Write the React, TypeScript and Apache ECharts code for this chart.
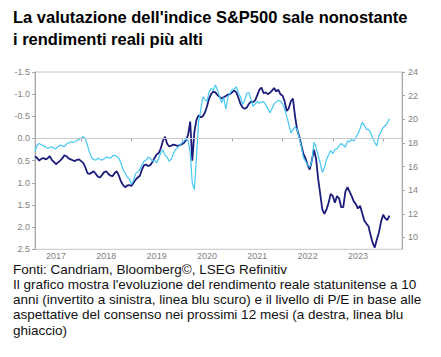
import React, { useEffect, useRef } from "react";
import * as echarts from "echarts";

// Semi-monthly observations starting 2017-02-01 (1st and 16th of each month)
const FIRST_YEAR = 2017;
const FIRST_MONTH = 1; // February (0-based)
const CATEGORY_COUNT = 176;

const yearLabels = ["2017", "2018", "2019", "2020", "2021", "2022", "2023"];

// US 10y real yield (%), plotted on the inverted left axis (dark blue)
const realYield = [
  0.40, 0.44, 0.50, 0.46, 0.44, 0.47, 0.45, 0.40, 0.48, 0.53,
  0.58, 0.54, 0.50, 0.45, 0.38, 0.40, 0.45, 0.47, 0.49, 0.51,
  0.48, 0.47, 0.51, 0.55, 0.65, 0.78, 0.80, 0.77, 0.74, 0.80,
  0.86, 0.88, 0.82, 0.76, 0.74, 0.80, 0.84, 0.85, 0.78, 0.74,
  0.84, 0.97, 1.05, 1.10, 1.06, 1.05, 1.07, 1.00, 0.93, 0.88,
  0.84, 0.70, 0.60, 0.59, 0.62, 0.60, 0.53, 0.44, 0.36, 0.33,
  0.22, 0.05, -0.04, 0.12, 0.18, 0.16, 0.14, 0.15, 0.17, 0.15,
  0.13, 0.10, 0.04, -0.08, -0.38, 0.50, -0.15, -0.42, -0.52, -0.48,
  -0.50, -0.58, -0.72, -0.90, -1.00, -1.06, -1.04, -0.98, -0.94, -0.90,
  -0.93, -0.96, -0.99, -1.00, -1.04, -1.08, -1.04, -0.92, -0.78, -0.70,
  -0.67, -0.70, -0.78, -0.83, -0.82, -0.86, -0.98, -1.10, -1.15, -1.02,
  -1.04, -1.00, -1.03, -1.08, -1.14, -1.06, -1.10, -1.00, -0.97, -0.85,
  -0.62, -0.68, -0.84, -0.90, -0.50, -0.20, -0.05, 0.15, 0.35, 0.45,
  0.60, 0.70, 0.50, 0.25, 0.45, 0.90, 1.25, 1.60, 1.70, 1.60,
  1.45, 1.25, 1.30, 1.45, 1.30, 1.35, 1.55, 1.55, 1.20, 1.10,
  1.20, 1.30, 1.42, 1.48, 1.58, 1.52, 1.68, 1.85, 1.92, 1.98,
  2.18, 2.35, 2.46, 2.28, 2.12, 1.88, 1.72, 1.80, 1.84, 1.74,
];

// S&P500 forward 12m P/E, plotted on the right axis (light blue)
const forwardPE = [
  17.25, 17.80, 17.96, 17.85, 17.75, 17.68, 17.54, 17.60, 17.68, 17.55,
  17.50, 17.68, 17.82, 17.75, 17.68, 17.90, 18.00, 18.10, 18.05, 18.10,
  18.20, 18.30, 18.40, 18.52, 18.35, 17.80, 17.20, 16.75, 16.60, 16.55,
  16.70, 16.60, 16.55, 16.65, 16.80, 16.75, 16.70, 16.90, 16.95, 16.85,
  16.70, 16.30, 15.75, 15.45, 15.10, 14.95, 14.50, 14.85, 15.40, 15.55,
  15.75, 16.15, 16.45, 16.55, 16.80, 16.70, 16.45, 16.55, 16.30, 16.70,
  17.15, 17.40, 16.95, 16.80, 16.45, 16.65, 17.10, 17.45, 17.60, 17.80,
  18.00, 18.15, 18.35, 18.20, 17.20, 14.60, 14.05, 16.80, 19.80, 20.70,
  21.90, 21.70, 21.50, 22.30, 22.60, 22.45, 22.90, 22.50, 21.90, 21.40,
  21.85, 20.85, 21.90, 22.20, 22.50, 22.55, 22.75, 22.20, 21.90, 21.25,
  21.60, 22.20, 22.25, 21.70, 21.10, 21.30, 21.50, 21.35, 21.45, 21.50,
  21.25, 20.90, 20.55, 20.90, 21.30, 21.45, 21.60, 21.55, 21.35, 20.90,
  20.25, 19.60, 18.85, 19.10, 19.35, 19.15, 18.40, 17.70, 16.75, 16.45,
  16.15, 15.95, 16.40, 18.05, 17.65, 16.95, 16.30, 15.50, 15.90, 16.60,
  17.00, 17.35, 17.10, 17.45, 17.50, 17.75, 17.95, 17.80, 17.65, 18.15,
  18.10, 18.30, 18.15, 18.45, 18.80, 19.20, 19.75, 19.50, 19.15, 19.15,
  18.90, 18.40, 18.05, 17.75, 18.60, 18.95, 19.30, 19.45, 19.70, 20.05,
];

const titleLines = [
  "La valutazione dell'indice S&P500 sale nonostante",
  "i rendimenti reali più alti",
];

const noteLines = [
  "Fonti: Candriam, Bloomberg©, LSEG Refinitiv",
  "Il grafico mostra l'evoluzione del rendimento reale statunitense a 10",
  "anni (invertito a sinistra, linea blu scuro) e il livello di P/E in base alle",
  "aspettative del consenso nei prossimi 12 mesi (a destra, linea blu",
  "ghiaccio)",
];

function buildCategories(): string[] {
  const out: string[] = [];
  for (let i = 0; i < CATEGORY_COUNT; i++) {
    const m = FIRST_MONTH + Math.floor(i / 2);
    const y = FIRST_YEAR + Math.floor(m / 12);
    const mm = (m % 12) + 1;
    const dd = i % 2 === 0 ? 1 : 16;
    out.push(`${y}-${String(mm).padStart(2, "0")}-${String(dd).padStart(2, "0")}`);
  }
  return out;
}

const FONT = "'Liberation Sans', Arial, Helvetica, sans-serif";
const AXIS_GREY = "#a6a6a6";
const LABEL_GREY = "#7f7f7f";

export default function App() {
  const ref = useRef<HTMLDivElement>(null);

  useEffect(() => {
    if (!ref.current) return;
    const chart = echarts.init(ref.current, undefined, { renderer: "svg" });
    const categories = buildCategories();

    chart.setOption({
      animation: false,
      backgroundColor: "#ffffff",
      textStyle: { fontFamily: FONT },
      title: {
        text: titleLines.join("\n"),
        left: 13,
        top: 6,
        padding: 0,
        textStyle: {
          fontFamily: FONT,
          fontSize: 16.5,
          fontWeight: "bold",
          color: "#000000",
          lineHeight: 22,
        },
      },
      graphic: [
        {
          type: "text",
          left: 13,
          top: 261.5,
          style: {
            text: noteLines.join("\n"),
            font: `13.5px ${FONT}`,
            fill: "#111111",
            lineHeight: 15.25,
          },
        },
      ],
      grid: {
        left: 35,
        top: 72,
        width: 367,
        height: 177.3,
        show: true,
        borderColor: "#c4c4c4",
        borderWidth: 1,
        containLabel: false,
      },
      xAxis: {
        type: "category",
        data: categories,
        boundaryGap: false,
        axisLine: { show: true, lineStyle: { color: AXIS_GREY, width: 1 } },
        axisTick: {
          show: true,
          length: 3,
          lineStyle: { color: AXIS_GREY },
          interval: (_i: number, v: string) => v.endsWith("-01-01"),
        },
        axisLabel: {
          interval: (_i: number, v: string) =>
            v.endsWith("-07-01") && yearLabels.includes(v.slice(0, 4)),
          formatter: (v: string) => v.slice(0, 4),
          fontSize: 9,
          color: LABEL_GREY,
          margin: 2,
          fontFamily: FONT,
        },
        splitLine: { show: false },
      },
      yAxis: [
        {
          type: "value",
          position: "left",
          inverse: true,
          min: -1.5,
          max: 2.5,
          interval: 0.5,
          axisLine: { show: true, lineStyle: { color: AXIS_GREY, width: 1 } },
          axisTick: { show: true, length: 3, lineStyle: { color: AXIS_GREY } },
          axisLabel: {
            formatter: (v: number) => v.toFixed(1),
            fontSize: 9,
            color: LABEL_GREY,
            margin: 5,
            fontFamily: FONT,
          },
          splitLine: { show: false },
        },
        {
          type: "value",
          position: "right",
          min: 9,
          max: 24,
          minInterval: 2,
          maxInterval: 2,
          axisLine: { show: true, lineStyle: { color: AXIS_GREY, width: 1 } },
          axisTick: { show: true, length: 3, lineStyle: { color: AXIS_GREY } },
          axisLabel: {
            showMinLabel: false,
            fontSize: 9,
            color: LABEL_GREY,
            margin: 6,
            fontFamily: FONT,
          },
          splitLine: { show: false },
        },
      ],
      series: [
        {
          name: "Rendimento reale USA 10 anni",
          type: "line",
          yAxisIndex: 0,
          data: realYield,
          showSymbol: false,
          symbol: "none",
          lineStyle: { color: "#1c1c7c", width: 1.8 },
          z: 2,
          markLine: {
            silent: true,
            symbol: "none",
            label: { show: false },
            lineStyle: { color: "#c8c8c8", width: 1, type: "solid" },
            data: [{ yAxis: 0 }],
          },
        },
        {
          name: "P/E prossimi 12 mesi",
          type: "line",
          yAxisIndex: 1,
          data: forwardPE,
          showSymbol: false,
          symbol: "none",
          lineStyle: { color: "#45c8f2", width: 1.2 },
          z: 3,
        },
      ],
    });

    return () => {
      chart.dispose();
    };
  }, []);

  return (
    <div
      ref={ref}
      style={{ position: "absolute", left: 0, top: 0, width: 441, height: 357 }}
    />
  );
}
